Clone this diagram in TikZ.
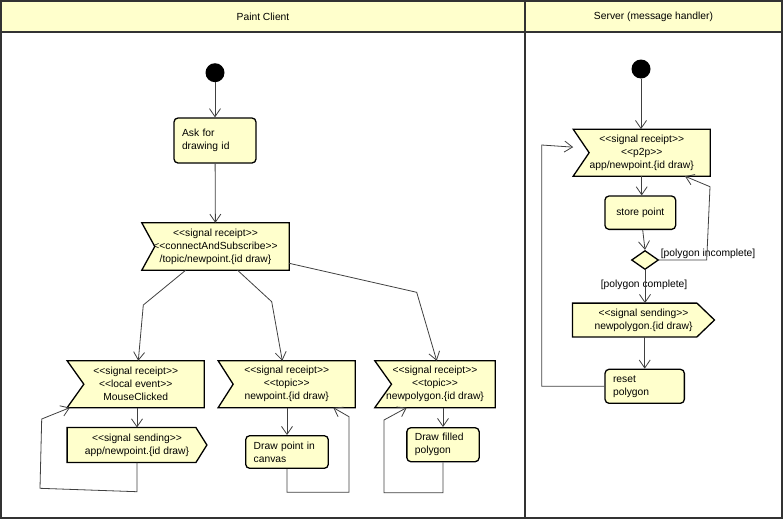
\documentclass[tikz,border=0pt]{standalone}
\usepackage{fontspec}
\newfontfamily\umlfont{Liberation Sans}
\usetikzlibrary{arrows.meta,backgrounds,shapes.geometric}

\begin{document}
\begin{tikzpicture}[x=1pt,y=-1pt,>={Straight Barb[length=8pt,width=11pt]},
	every node/.style={font=\umlfont\fontsize{10.3}{13}\selectfont},
	lane/.style={draw=black!80,line width=2pt},
	initial/.style={circle,fill=black,minimum size=19pt,inner sep=0pt},
	action/.style={draw=black,line width=1.3pt,fill=umlyellow,rounded corners=4pt,inner xsep=8pt,inner ysep=0pt,align=left},
	signalbox/.style={inner sep=0pt,align=center},
	outline/.style={draw=black,line width=1.3pt,fill=umlyellow,line join=miter},
	decision/.style={diamond,draw=black,line width=1.3pt,fill=umlyellow,minimum width=27pt,minimum height=19pt,inner sep=0pt},
	guard/.style={inner sep=1.5pt},
	flow/.style={->,draw=black!75,line width=0.8pt}]

\definecolor{umlyellow}{RGB}{255,255,204}

\useasboundingbox (0,0) rectangle (783,520);

% swimlanes
\fill[umlyellow] (1,1) rectangle (782,32);
\draw[lane] (1,1) rectangle (782,518);
\draw[lane] (1,32)--(782,32);
\draw[lane] (525,1)--(525,518);
\node (clienttitle) at (263,17) {Paint Client};
\node (servertitle) at (653.5,17) {Server (message handler)};

% client lane
\node[initial] (start) at (215,72.7) {};
\node[action,minimum width=82,minimum height=45,text width=66] (ask) at (215,140.5) {Ask for\\drawing id};
\node[signalbox,minimum width=147,minimum height=47] (connect) at (215.5,246.5) {<<signal receipt>>\\<<connectAndSubscribe>>\\/topic/newpoint.\{id draw\}};
\node[signalbox,minimum width=136.7,minimum height=46.5] (local) at (135.7,384.2) {<<signal receipt>>\\<<local event>>\\MouseClicked};
\node[signalbox,minimum width=139.4,minimum height=34.6] (sendpt) at (137,445) {<<signal sending>>\\app/newpoint.\{id draw\}};
\node[signalbox,minimum width=136.7,minimum height=46.5] (topicpt) at (286.7,384.2) {<<signal receipt>>\\<<topic>>\\newpoint.\{id draw\}};
\node[action,minimum width=82.6,minimum height=32.6,text width=66.6] (drawpt) at (287,452) {Draw point in\\canvas};
\node[signalbox,minimum width=120,minimum height=46.5] (topicpoly) at (435,384.2) {<<signal receipt>>\\<<topic>>\\newpolygon.\{id draw\}};
\node[action,minimum width=72.3,minimum height=34,text width=56.3] (drawfill) at (443,444.7) {Draw filled\\polygon};

% server lane
\node[initial] (start2) at (641,69) {};
\node[signalbox,minimum width=136.7,minimum height=46.7] (ptp) at (641.7,152.7) {<<signal receipt>>\\<<p2p>>\\app/newpoint.\{id draw\}};
\node[action,minimum width=70.7,minimum height=33.3,align=center] (store) at (640.3,212.7) {store point};
\node[decision] (check) at (645,260) {};
\node[signalbox,minimum width=141.6,minimum height=33.4] (sendpoly) at (643.5,320) {<<signal sending>>\\newpolygon.\{id draw\}};
\node[action,minimum width=79.3,minimum height=34,text width=63.3] (reset) at (644.7,386.3) {reset\\polygon};
\node[guard,anchor=south west] (incomplete) at (check.east) {[polygon incomplete]};
\node[guard] (complete) at (644,285) {[polygon complete]};

% signal outlines
\begin{scope}[on background layer]
\foreach \n/\d in {connect/13,local/16.7,topicpt/15,topicpoly/16.7,ptp/16}{
	\draw[outline] (\n.north west)--(\n.north east)--(\n.south east)--(\n.south west)--([xshift=\d]\n.west)--cycle;
}
\foreach \n/\d in {sendpt/11,sendpoly/17.6}{
	\draw[outline] (\n.north west)--([xshift=-\d]\n.north east)--(\n.east)--([xshift=-\d]\n.south east)--(\n.south west)--cycle;
}
\end{scope}

% client flows
\draw[flow] (start)--(ask);
\draw[flow] (ask)--(connect);
\draw[flow] ([xshift=-29.8]connect.south)--(143.3,305)--([xshift=2.6]local.north);
\draw[flow] ([xshift=22]connect.south)--(271.7,301.7)--([xshift=-4.4]topicpt.north);
\draw[flow] ([yshift=-16.8]connect.east)--(416.7,292.3)--([xshift=1.7]topicpoly.north);
\draw[flow] (local.south -| sendpt.north)--(sendpt.north);
\draw[flow] (sendpt.south)--(137,491.7)--(40,488.3)--(41.7,419)--([xshift=2.7]local.south west);
\draw[flow] (topicpt.south -| drawpt.north)--(drawpt.north);
\draw[flow] (drawpt.south)--(287,492.3)--(349,492.3)--(349,416.7)--([xshift=46.6]topicpt.south);
\draw[flow] (topicpoly.south -| drawfill.north)--(drawfill.north);
\draw[flow] (drawfill.south)--(443,492.7)--(384,492.7)--(384,420)--([xshift=-28.3]topicpoly.south);

% server flows
\draw[flow] (start2)--(start2 |- ptp.north);
\draw[flow] (ptp.south)--(ptp.south |- store.north);
\draw[flow] ([xshift=2.4]store.south)--(check.north);
\draw[flow] (check.east)--(706.7,260)--(710,186.7)--([xshift=43.3]ptp.south);
\draw[flow] (check.south)--(check.south |- sendpoly.north);
\draw[flow] (reset.north |- sendpoly.south)--(reset.north);
\draw[flow] (reset.west)--(541.7,386.3)--(541.7,145)--([yshift=-18]ptp.north west);

\end{tikzpicture}
\end{document}
